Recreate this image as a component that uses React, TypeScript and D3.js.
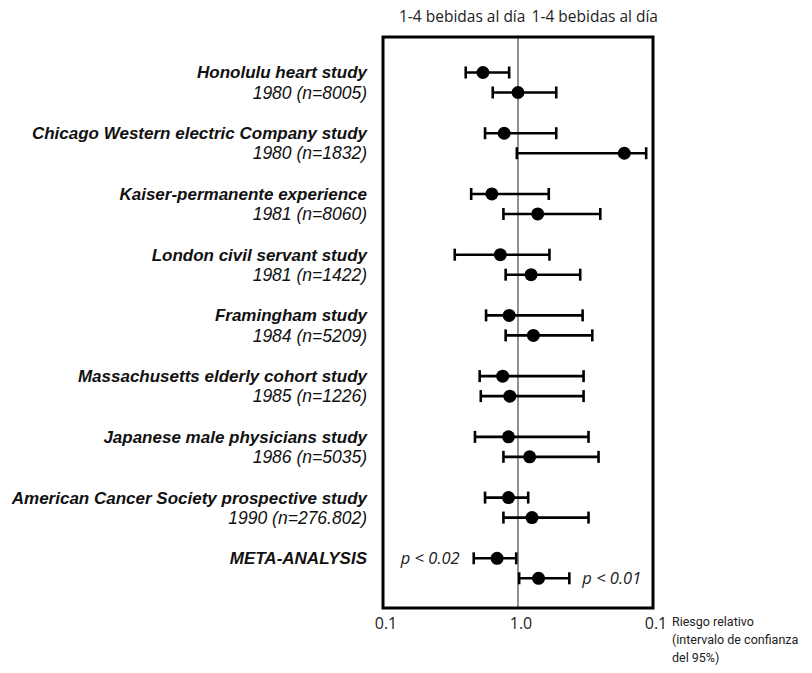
import React from "react";
import * as d3 from "d3";

// Studies and their subtitles
const studies = [
  "Honolulu heart study",
  "Chicago Western electric Company study",
  "Kaiser-permanente experience",
  "London civil servant study",
  "Framingham study",
  "Massachusetts elderly cohort study",
  "Japanese male physicians study",
  "American Cancer Society prospective study",
  "META-ANALYSIS",
];
const subtitles = [
  "1980 (n=8005)",
  "1980 (n=1832)",
  "1981 (n=8060)",
  "1981 (n=1422)",
  "1984 (n=5209)",
  "1985 (n=1226)",
  "1986 (n=5035)",
  "1990 (n=276.802)",
  "",
];

// First row of each study (upper estimate)
const rrA = [0.55, 0.79, 0.64, 0.74, 0.86, 0.77, 0.85, 0.85, 0.7];
const loA = [0.41, 0.57, 0.45, 0.34, 0.58, 0.52, 0.48, 0.57, 0.47];
const hiA = [0.86, 1.92, 1.69, 1.71, 3.01, 3.06, 3.33, 1.19, 0.97];

// Second row of each study (lower estimate)
const rrB = [1.0, 6.13, 1.4, 1.25, 1.3, 0.87, 1.22, 1.27, 1.42];
const loB = [0.65, 0.98, 0.78, 0.81, 0.81, 0.53, 0.78, 0.78, 1.02];
const hiB = [1.92, 8.9, 4.07, 2.89, 3.55, 3.06, 3.95, 3.33, 2.4];

const tickValues = [0.1, 1, 10];
const tickLabels = ["0.1", "1.0", "0.1"];
const headerLabels = ["1-4 bebidas al día", "1-4 bebidas al día"];
const axisTitle = ["Riesgo relativo", "(intervalo de confianza", "del 95%)"];
const pLabels = ["p < 0.02", "p < 0.01"];

const width = 812;
const height = 673;
const box = { left: 383, right: 653, top: 37, bottom: 608 };
const rowGap = 20;

const App = () => {
  const x = d3.scaleLog().domain([0.1, 10]).range([box.left, box.right]);
  const y = d3
    .scalePoint<number>()
    .domain(d3.range(studies.length))
    .range([82.5, 568.3]);

  const rows = studies.flatMap((s, i) => [
    { key: `a${i}`, cy: y(i)! - rowGap / 2, rr: rrA[i], lo: loA[i], hi: hiA[i] },
    { key: `b${i}`, cy: y(i)! + rowGap / 2, rr: rrB[i], lo: loB[i], hi: hiB[i] },
  ]);

  const labelFont = "'Liberation Sans', Arial, sans-serif";
  const plainFont = "'Open Sans', 'Noto Sans', sans-serif";
  const last = studies.length - 1;

  return (
    <svg
      width={width}
      height={height}
      style={{ position: "absolute", left: 0, top: 0, background: "#fff" }}
    >
      {/* header, two labels side by side */}
      <text x={399} y={22} fontFamily={plainFont} fontSize={15.5} fill="#222">
        {headerLabels[0]}
      </text>
      <text
        x={658}
        y={22}
        textAnchor="end"
        fontFamily={plainFont}
        fontSize={15.5}
        fill="#222"
      >
        {headerLabels[1]}
      </text>

      {/* study labels */}
      {studies.map((s, i) => (
        <g key={s} fontFamily={labelFont} fontStyle="italic" fill="#111">
          <text
            x={367}
            y={y(i)! - rowGap / 2}
            dy="0.35em"
            textAnchor="end"
            fontWeight="bold"
            fontSize={17}
          >
            {s}
          </text>
          {subtitles[i] && (
            <text
              x={367}
              y={y(i)! + rowGap / 2}
              dy="0.35em"
              textAnchor="end"
              fontSize={17.5}
            >
              {subtitles[i]}
            </text>
          )}
        </g>
      ))}

      {/* reference line at 1 */}
      <line
        x1={x(1)}
        x2={x(1)}
        y1={box.top}
        y2={box.bottom}
        stroke="#555"
        strokeWidth={1.3}
      />

      {/* intervals */}
      {rows.map((r) => (
        <g key={r.key} stroke="#000" strokeWidth={2.6}>
          <line x1={x(r.lo)} x2={x(r.hi)} y1={r.cy} y2={r.cy} />
          <line x1={x(r.lo)} x2={x(r.lo)} y1={r.cy - 6} y2={r.cy + 6} />
          <line x1={x(r.hi)} x2={x(r.hi)} y1={r.cy - 6} y2={r.cy + 6} />
          <circle cx={x(r.rr)} cy={r.cy} r={6.5} fill="#000" stroke="none" />
        </g>
      ))}

      {/* p-values for the meta-analysis */}
      <text
        x={x(loA[last]) - 14}
        y={y(last)! - rowGap / 2}
        dy="0.35em"
        textAnchor="end"
        fontFamily={plainFont}
        fontStyle="italic"
        fontSize={16.5}
        fill="#222"
      >
        {pLabels[0]}
      </text>
      <text
        x={x(hiB[last]) + 13}
        y={y(last)! + rowGap / 2}
        dy="0.35em"
        fontFamily={plainFont}
        fontStyle="italic"
        fontSize={16.5}
        fill="#222"
      >
        {pLabels[1]}
      </text>

      {/* frame */}
      <rect
        x={box.left}
        y={box.top}
        width={box.right - box.left}
        height={box.bottom - box.top}
        fill="none"
        stroke="#000"
        strokeWidth={3}
      />

      {/* x tick labels */}
      {tickValues.map((v, i) => (
        <text
          key={i}
          x={x(v) + 3}
          y={629}
          textAnchor="middle"
          fontFamily={plainFont}
          fontSize={16}
          fill="#222"
        >
          {tickLabels[i]}
        </text>
      ))}

      {/* axis title */}
      {axisTitle.map((t, i) => (
        <text
          key={i}
          x={672}
          y={626 + i * 18}
          fontFamily="Roboto, sans-serif"
          fontSize={12.5}
          fill="#222"
        >
          {t}
        </text>
      ))}
    </svg>
  );
};

export default App;
